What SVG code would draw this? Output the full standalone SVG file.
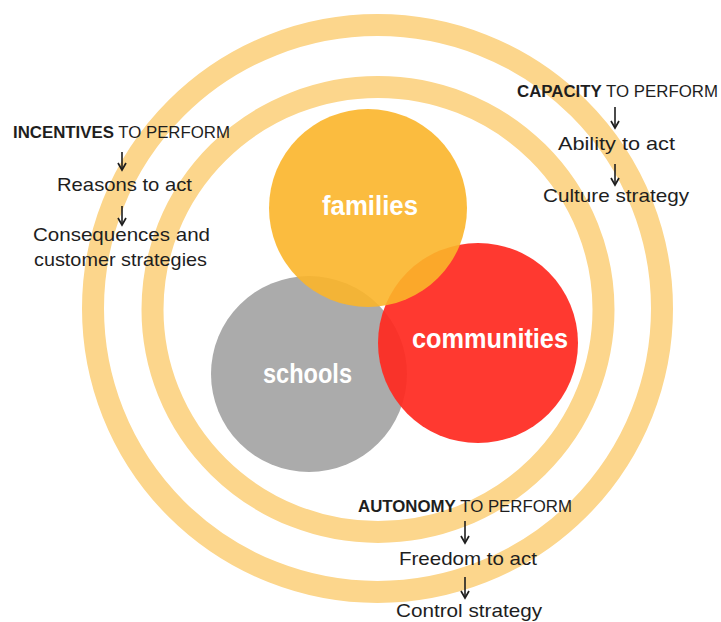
<svg xmlns="http://www.w3.org/2000/svg" width="721" height="622" viewBox="0 0 721 622">
<style>
.ring{fill:none;stroke:#FCD68C;stroke-width:22}
.lbl{font-family:"Liberation Sans",Arial,sans-serif;font-weight:bold;fill:#FFFFFF;font-size:27px}
.t{font-family:"Liberation Sans",Arial,sans-serif;fill:#1E1E1E;font-size:18.5px}
.h{font-family:"Liberation Sans",Arial,sans-serif;fill:#1E1E1E;font-size:16px}
.b{font-weight:bold}
.arr{stroke:#1E1E1E;stroke-width:1.6;fill:none}
</style>
<defs>
<path id="ah" d="M-4,-7 L0,0 L4,-7" fill="none" stroke="#1E1E1E" stroke-width="1.7" stroke-linejoin="miter"/>
</defs>
<rect width="721" height="622" fill="#FFFFFF"/>
<g id="rings">
<ellipse class="ring" cx="377.5" cy="308.5" rx="284.5" ry="283.5"/>
<ellipse class="ring" cx="378" cy="309.5" rx="225.5" ry="222.5"/>
</g>
<g id="schools">
<circle cx="309" cy="374" r="98" fill="#ABABAB"/>
<text class="lbl" x="307.5" y="383" text-anchor="middle" textLength="89" lengthAdjust="spacingAndGlyphs">schools</text>
</g>
<g id="communities">
<circle cx="478" cy="343" r="100" fill="#FF2A20" fill-opacity="0.93"/>
<text class="lbl" x="490" y="348" text-anchor="middle" textLength="156" lengthAdjust="spacingAndGlyphs">communities</text>
</g>
<g id="families">
<circle cx="368" cy="208" r="99" fill="#FBB52A" fill-opacity="0.9"/>
<text class="lbl" x="370" y="215" text-anchor="middle" textLength="96" lengthAdjust="spacingAndGlyphs">families</text>
</g>
<g id="incentives">
<text class="h" x="13" y="138" textLength="217" lengthAdjust="spacingAndGlyphs"><tspan class="b">INCENTIVES</tspan> TO PERFORM</text>
<text class="t" x="124.5" y="191" text-anchor="middle" textLength="135" lengthAdjust="spacingAndGlyphs">Reasons to act</text>
<text class="t" x="121.5" y="241" text-anchor="middle" textLength="177" lengthAdjust="spacingAndGlyphs">Consequences and</text>
<text class="t" x="120.5" y="266" text-anchor="middle" textLength="173" lengthAdjust="spacingAndGlyphs">customer strategies</text>
</g>
<g id="capacity">
<text class="h" x="517" y="97" textLength="201" lengthAdjust="spacingAndGlyphs"><tspan class="b">CAPACITY</tspan> TO PERFORM</text>
<text class="t" x="616.5" y="150" text-anchor="middle" textLength="117" lengthAdjust="spacingAndGlyphs">Ability to act</text>
<text class="t" x="616" y="202" text-anchor="middle" textLength="146" lengthAdjust="spacingAndGlyphs">Culture strategy</text>
</g>
<g id="autonomy">
<text class="h" x="358" y="512" textLength="214" lengthAdjust="spacingAndGlyphs"><tspan class="b">AUTONOMY</tspan> TO PERFORM</text>
<text class="t" x="468" y="565" text-anchor="middle" textLength="138" lengthAdjust="spacingAndGlyphs">Freedom to act</text>
<text class="t" x="469" y="617" text-anchor="middle" textLength="146" lengthAdjust="spacingAndGlyphs">Control strategy</text>
</g>
<g id="connectors">
<line class="arr" x1="122" y1="152" x2="122" y2="169"/><use href="#ah" x="122" y="170"/>
<line class="arr" x1="122" y1="206" x2="122" y2="224"/><use href="#ah" x="122" y="225"/>
<line class="arr" x1="615" y1="107" x2="615" y2="127"/><use href="#ah" x="615" y="128"/>
<line class="arr" x1="615" y1="164" x2="615" y2="184"/><use href="#ah" x="615" y="185"/>
<line class="arr" x1="465" y1="521" x2="465" y2="542"/><use href="#ah" x="465" y="543"/>
<line class="arr" x1="465" y1="577" x2="465" y2="597"/><use href="#ah" x="465" y="598"/>
</g>
</svg>
